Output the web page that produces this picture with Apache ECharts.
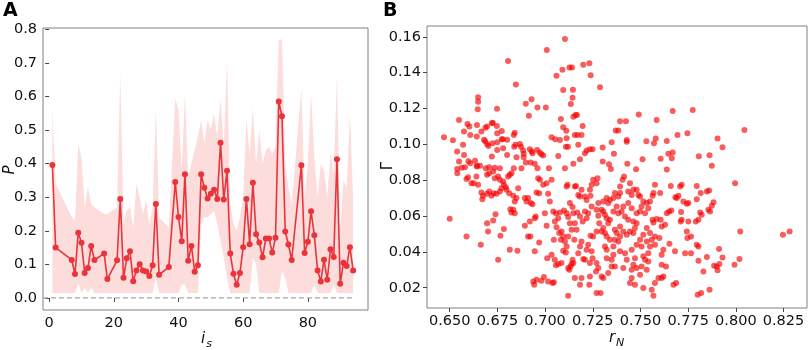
<!DOCTYPE html>
<html>
<head>
<meta charset="utf-8">
<script src="https://cdn.jsdelivr.net/npm/echarts@6/dist/echarts.min.js"></script>
<style>
  html, body { margin: 0; padding: 0; background: #fff; }
  #main { width: 809px; height: 350px; }
</style>
</head>
<body>
<div id="main"></div>
<script>
var chartDom = document.getElementById("main");
var myChart = echarts.init(chartDom);
var option;

// panel A: P per i_s, with the shaded range
const sIndex = [1, 2, 7, 8, 9, 10, 11, 12, 13, 14, 17, 18, 21, 22, 23, 24, 25, 26, 27, 28,
  29, 30, 31, 32, 33, 34, 37, 39, 40, 41, 42, 43, 44, 45, 46, 47, 48, 49, 50, 51,
  52, 53, 54, 55, 56, 57, 58, 59, 60, 61, 62, 63, 64, 65, 66, 67, 68, 69, 70, 71,
  72, 73, 74, 75, 78, 79, 80, 81, 82, 83, 84, 85, 86, 87, 88, 89, 90, 91, 92, 93, 94];
const pMean = [0.396, 0.150, 0.113, 0.071, 0.194, 0.164, 0.074, 0.089, 0.155, 0.113, 0.132, 0.056, 0.112, 0.295, 0.060, 0.118, 0.139, 0.050, 0.082, 0.100,
  0.082, 0.079, 0.065, 0.097, 0.280, 0.069, 0.092, 0.345, 0.241, 0.169, 0.368, 0.111, 0.155, 0.078, 0.097, 0.368, 0.328, 0.296, 0.310, 0.322,
  0.295, 0.462, 0.293, 0.379, 0.132, 0.072, 0.039, 0.074, 0.151, 0.295, 0.160, 0.343, 0.190, 0.165, 0.121, 0.177, 0.177, 0.135, 0.179, 0.585,
  0.541, 0.198, 0.159, 0.113, 0.395, 0.134, 0.167, 0.258, 0.187, 0.082, 0.049, 0.114, 0.054, 0.145, 0.122, 0.413, 0.042, 0.105, 0.095, 0.151, 0.082];
const pUpper = [0.565, 0.34, 0.24, 0.23, 0.455, 0.42, 0.27, 0.33, 0.28, 0.27, 0.25, 0.25, 0.27, 0.67, 0.22, 0.26, 0.27, 0.21, 0.34, 0.30,
  0.25, 0.29, 0.22, 0.27, 0.565, 0.24, 0.21, 0.595, 0.56, 0.38, 0.61, 0.36, 0.40, 0.44, 0.48, 0.53, 0.46, 0.53, 0.50, 0.55,
  0.48, 0.595, 0.45, 0.71, 0.28, 0.22, 0.20, 0.24, 0.30, 0.53, 0.43, 0.565, 0.40, 0.50, 0.40, 0.44, 0.45, 0.43, 0.45, 0.77,
  0.77, 0.40, 0.33, 0.28, 0.625, 0.30, 0.40, 0.61, 0.42, 0.30, 0.40, 0.38, 0.30, 0.43, 0.37, 0.66, 0.20, 0.35, 0.33, 0.55, 0.30];
const pLower = [0.015, 0.015, 0.015, 0.015, 0.042, 0.015, 0.03, 0.015, 0.03, 0.015, 0.015, 0.015, 0.015, 0.015, 0.015, 0.015, 0.015, 0.015, 0.015, 0.015,
  0.015, 0.015, 0.015, 0.015, 0.06, 0.015, 0.015, 0.015, 0.015, 0.04, 0.04, 0.015, 0.015, 0.015, 0.015, 0.22, 0.24, 0.24, 0.25, 0.26,
  0.22, 0.17, 0.12, 0.06, 0.015, 0.015, 0.015, 0.015, 0.015, 0.015, 0.015, 0.12, 0.10, 0.015, 0.015, 0.015, 0.015, 0.015, 0.015, 0.015,
  0.08, 0.06, 0.015, 0.015, 0.015, 0.015, 0.015, 0.015, 0.04, 0.015, 0.015, 0.015, 0.015, 0.015, 0.04, 0.015, 0.015, 0.015, 0.015, 0.015, 0.015];
const xTicksA = [0, 20, 40, 60, 80];
const yTicksA = [0, 0.1, 0.2, 0.3, 0.4, 0.5, 0.6, 0.7, 0.8];
const zeroLineEnd = 94;

// panel B: Gamma against r_N
const rN = [
  0.7104, 0.7009, 0.6806, 0.7060, 0.7091, 0.7128, 0.7141, 0.7200, 0.7232, 0.7239, 0.6847, 0.6649, 0.6649, 0.6647, 0.6748, 0.6899, 0.6929, 0.6915, 0.6960, 0.7004,
  0.7095, 0.7146, 0.7144, 0.7135, 0.6549, 0.6593, 0.6603, 0.6575, 0.6608, 0.6570, 0.6643, 0.6666, 0.6687, 0.6696, 0.6721, 0.6726, 0.6747, 0.6773, 0.6749, 0.6749,
  0.6470, 0.6517, 0.6642, 0.6680, 0.6686, 0.6696, 0.6724, 0.6773, 0.6778, 0.6801, 0.6836, 0.6841, 0.6845, 0.6838, 0.6539, 0.6575, 0.6549, 0.6598, 0.6608, 0.6633,
  0.6642, 0.6659, 0.6703, 0.6721, 0.6749, 0.6780, 0.6801, 0.6850, 0.6868, 0.6874, 0.6885, 0.6888, 0.6888, 0.6920, 0.6930, 0.6934, 0.6958, 0.6972, 0.6981, 0.7034,
  0.7053, 0.7078, 0.7083, 0.7095, 0.7111, 0.7109, 0.7120, 0.7113, 0.7148, 0.7160, 0.7167, 0.7156, 0.7170, 0.7191, 0.7174, 0.7197, 0.7209, 0.7218, 0.7235, 0.7249,
  0.7183, 0.7148, 0.7104, 0.7069, 0.6539, 0.6563, 0.6580, 0.6643, 0.6689, 0.6707, 0.6736, 0.6763, 0.6836, 0.6876, 0.6899, 0.6924, 0.6946, 0.6960, 0.6990, 0.7020,
  0.6500, 0.6540, 0.6588, 0.6596, 0.6614, 0.6626, 0.6640, 0.6649, 0.6666, 0.6671, 0.6675, 0.6696, 0.6707, 0.6719, 0.6731, 0.6745, 0.6763, 0.6771, 0.6784, 0.6794,
  0.6806, 0.6815, 0.6824, 0.6754, 0.6736, 0.6763, 0.6780, 0.6798, 0.6812, 0.6833, 0.6841, 0.6850, 0.6859, 0.6696, 0.6707, 0.6728, 0.6588, 0.6663, 0.6696, 0.6701,
  0.6728, 0.6740, 0.6766, 0.6784, 0.6815, 0.6855, 0.6754, 0.6824, 0.6841, 0.6833, 0.6818, 0.6894, 0.6911, 0.6923, 0.6946, 0.6943, 0.6938, 0.6955, 0.6969, 0.6981,
  0.6994, 0.7011, 0.7016, 0.7039, 0.7046, 0.6894, 0.6903, 0.6925, 0.6934, 0.6911, 0.6955, 0.6969, 0.6964, 0.6973, 0.6990, 0.7008, 0.7034, 0.7016, 0.7025, 0.6999,
  0.7008, 0.6951, 0.6946, 0.6920, 0.7043, 0.7057, 0.7069, 0.7078, 0.7099, 0.7113, 0.7051, 0.7060, 0.7074, 0.7086, 0.7095, 0.7104, 0.7083, 0.7046, 0.7034, 0.7051,
  0.7069, 0.7057, 0.7086, 0.7095, 0.7113, 0.7109, 0.7121, 0.7134, 0.7127, 0.7139, 0.7144, 0.7148, 0.7156, 0.7121, 0.7153, 0.7165, 0.7174, 0.7183, 0.7191, 0.7200,
  0.7209, 0.7218, 0.7235, 0.7249, 0.7244, 0.7226, 0.7238, 0.7252, 0.7270, 0.7284, 0.7279, 0.7270, 0.7244, 0.7226, 0.7218, 0.7209, 0.7197, 0.7183, 0.7169, 0.7156,
  0.7139, 0.7130, 0.7121, 0.7148, 0.7144, 0.7130, 0.7113, 0.7118, 0.7156, 0.7162, 0.7174, 0.7183, 0.7191, 0.7209, 0.7218, 0.7238, 0.7244, 0.7270, 0.7275, 0.7252,
  0.7235, 0.7279, 0.7279, 0.7270, 0.7267, 0.7235, 0.7232, 0.7191, 0.7183, 0.7270, 0.7121,
  0.7288, 0.7491, 0.7669, 0.7774, 0.7585, 0.7393, 0.7424, 0.7370, 0.7384, 0.8045, 0.7694, 0.7746, 0.7904, 0.7930, 0.7428, 0.7428, 0.7580, 0.7531, 0.7571, 0.7638,
  0.7349, 0.7302, 0.7361, 0.7646, 0.7669, 0.7664, 0.7511, 0.7606, 0.7806, 0.7862, 0.7874, 0.7302, 0.7335, 0.7345, 0.7431, 0.7477, 0.7638,
  0.7996, 0.8023, 0.8247, 0.8282, 0.7993, 0.8019, 0.7912, 0.7930, 0.7900, 0.7886, 0.7914, 0.7904, 0.7848, 0.7830, 0.7804, 0.7800, 0.7818, 0.7862, 0.7795, 0.7816,
  0.7848, 0.7860, 0.7883, 0.7874, 0.7856, 0.7865, 0.7813, 0.7821, 0.7804, 0.7790, 0.7795, 0.7751, 0.7743, 0.7716, 0.7708, 0.7699, 0.7690, 0.7659, 0.7650, 0.7662,
  0.7638, 0.7629, 0.7611, 0.7606, 0.7585, 0.7564, 0.7568, 0.7713, 0.7716, 0.7711, 0.7751, 0.7743, 0.7746, 0.7765, 0.7795, 0.7804, 0.7765, 0.7725, 0.7683, 0.7734,
  0.7681, 0.7652, 0.7620, 0.7611, 0.7634, 0.7611, 0.7620, 0.7611, 0.7673, 0.7687, 0.7576, 0.7603, 0.7568, 0.7564, 0.7550, 0.7541, 0.7533, 0.7515, 0.7498, 0.7489,
  0.7480, 0.7463, 0.7454, 0.7436, 0.7445, 0.7414, 0.7406, 0.7393, 0.7393, 0.7384, 0.7366, 0.7358, 0.7340, 0.7331, 0.7323, 0.7305, 0.7296, 0.7305, 0.7314, 0.7323,
  0.7340, 0.7331, 0.7305, 0.7296, 0.7314, 0.7323, 0.7340, 0.7314, 0.7323, 0.7358, 0.7366, 0.7384, 0.7393, 0.7375, 0.7366, 0.7393, 0.7410, 0.7428, 0.7445, 0.7463,
  0.7471, 0.7480, 0.7463, 0.7436, 0.7419, 0.7401, 0.7384, 0.7358, 0.7375, 0.7410, 0.7436, 0.7454, 0.7480, 0.7498, 0.7506, 0.7524, 0.7515, 0.7498, 0.7480, 0.7506,
  0.7533, 0.7550, 0.7541, 0.7524, 0.7506, 0.7480, 0.7463, 0.7454, 0.7428, 0.7410, 0.7419, 0.7454, 0.7471, 0.7515, 0.7541, 0.7533, 0.7498, 0.7454, 0.7445, 0.7471,
  0.7515, 0.7559, 0.7568, 0.7594, 0.7576, 0.7576, 0.7599, 0.7576, 0.7559, 0.7550, 0.7533, 0.7349, 0.7366, 0.7331, 0.7296, 0.7305, 0.7291, 0.7393, 0.7358, 0.7323, 0.7349
];
const gamma = [
  0.1587, 0.1526, 0.1465, 0.1383, 0.1416, 0.1429, 0.1429, 0.1444, 0.1452, 0.1385, 0.1333, 0.1262, 0.1238, 0.1195, 0.1199, 0.1227, 0.1251, 0.1160, 0.1206, 0.1205,
  0.1303, 0.1305, 0.1260, 0.1225, 0.1136, 0.1114, 0.1099, 0.1071, 0.1052, 0.0997, 0.1108, 0.1071, 0.1093, 0.1099, 0.1117, 0.1121, 0.1102, 0.1075, 0.1062, 0.1011,
  0.1039, 0.1023, 0.1043, 0.1026, 0.1017, 0.1002, 0.1006, 0.1028, 0.1028, 0.1026, 0.1052, 0.1065, 0.0997, 0.0987, 0.0960, 0.0941, 0.0904, 0.0906, 0.0894, 0.0909,
  0.0881, 0.0881, 0.0991, 0.0932, 0.0969, 0.0978, 0.0941, 0.0928, 0.1002, 0.0987, 0.0965, 0.0947, 0.0928, 0.0972, 0.0960, 0.0950, 0.0969, 0.0954, 0.0945, 0.1039,
  0.1028, 0.1024, 0.1141, 0.1095, 0.1076, 0.0987, 0.0987, 0.1034, 0.1154, 0.1164, 0.1164, 0.1052, 0.1052, 0.1052, 0.0997, 0.1102, 0.0950, 0.0965, 0.0972, 0.0972,
  0.0917, 0.0891, 0.0867, 0.0935, 0.0863, 0.0869, 0.0872, 0.0876, 0.0867, 0.0872, 0.0870, 0.0867, 0.0867, 0.0867, 0.0898, 0.0898, 0.0891, 0.0867, 0.0937, 0.0867,
  0.0585, 0.0839, 0.0807, 0.0817, 0.0783, 0.0783, 0.0820, 0.0774, 0.0731, 0.0694, 0.0713, 0.0724, 0.0737, 0.0713, 0.0727, 0.0724, 0.0737, 0.0755, 0.0774, 0.0761,
  0.0820, 0.0830, 0.0839, 0.0820, 0.0811, 0.0802, 0.0793, 0.0746, 0.0727, 0.0713, 0.0681, 0.0700, 0.0755, 0.0830, 0.0839, 0.0848, 0.0486, 0.0440, 0.0560, 0.0514,
  0.0575, 0.0610, 0.0490, 0.0527, 0.0412, 0.0406, 0.0356, 0.0620, 0.0616, 0.0635, 0.0638, 0.0546, 0.0486, 0.0486, 0.0403, 0.0217, 0.0235, 0.0245, 0.0453, 0.0239,
  0.0260, 0.0365, 0.0235, 0.0226, 0.0230, 0.0700, 0.0681, 0.0672, 0.0666, 0.0700, 0.0731, 0.0727, 0.0811, 0.0802, 0.0774, 0.0783, 0.0802, 0.0724, 0.0681, 0.0616,
  0.0546, 0.0598, 0.0588, 0.0570, 0.0625, 0.0616, 0.0588, 0.0620, 0.0631, 0.0616, 0.0570, 0.0538, 0.0505, 0.0514, 0.0486, 0.0458, 0.0468, 0.0468, 0.0384, 0.0356,
  0.0332, 0.0325, 0.0338, 0.0406, 0.0430, 0.0397, 0.0310, 0.0319, 0.0301, 0.0332, 0.0356, 0.0338, 0.0254, 0.0156, 0.0468, 0.0523, 0.0393, 0.0430, 0.0458, 0.0360,
  0.0356, 0.0412, 0.0338, 0.0365, 0.0403, 0.0440, 0.0490, 0.0486, 0.0514, 0.0560, 0.0601, 0.0635, 0.0653, 0.0616, 0.0588, 0.0625, 0.0570, 0.0598, 0.0620, 0.0560,
  0.0523, 0.0560, 0.0594, 0.0616, 0.0650, 0.0672, 0.0765, 0.0774, 0.0765, 0.0768, 0.0718, 0.0709, 0.0746, 0.0709, 0.0690, 0.0713, 0.0774, 0.0783, 0.0811, 0.0802,
  0.0746, 0.0672, 0.0310, 0.0338, 0.0291, 0.0263, 0.0217, 0.0254, 0.0217, 0.0170, 0.0486,
  0.1318, 0.1166, 0.1186, 0.1192, 0.1136, 0.1128, 0.1128, 0.1077, 0.1077, 0.1080, 0.1052, 0.1062, 0.1032, 0.0984, 0.1024, 0.1015, 0.1032, 0.1017, 0.1006, 0.1019,
  0.1011, 0.0982, 0.0947, 0.0947, 0.0954, 0.0922, 0.0917, 0.0919, 0.0934, 0.0939, 0.0880, 0.0904, 0.0889, 0.0863, 0.0891, 0.0861, 0.0859,
  0.0783, 0.0514, 0.0495, 0.0514, 0.0328, 0.0360, 0.0416, 0.0369, 0.0319, 0.0323, 0.0332, 0.0297, 0.0371, 0.0291, 0.0351, 0.0161, 0.0171, 0.0189, 0.0768, 0.0728,
  0.0737, 0.0743, 0.0677, 0.0657, 0.0635, 0.0625, 0.0620, 0.0607, 0.0579, 0.0570, 0.0694, 0.0672, 0.0668, 0.0774, 0.0765, 0.0713, 0.0700, 0.0768, 0.0625, 0.0631,
  0.0616, 0.0551, 0.0542, 0.0579, 0.0583, 0.0579, 0.0564, 0.0622, 0.0579, 0.0570, 0.0570, 0.0514, 0.0477, 0.0486, 0.0440, 0.0430, 0.0393, 0.0681, 0.0705, 0.0393,
  0.0403, 0.0445, 0.0412, 0.0384, 0.0319, 0.0328, 0.0263, 0.0254, 0.0217, 0.0226, 0.0774, 0.0728, 0.0728, 0.0713, 0.0681, 0.0644, 0.0672, 0.0681, 0.0709, 0.0718,
  0.0746, 0.0746, 0.0718, 0.0737, 0.0783, 0.0820, 0.0802, 0.0765, 0.0728, 0.0709, 0.0728, 0.0700, 0.0690, 0.0672, 0.0700, 0.0681, 0.0635, 0.0625, 0.0607, 0.0588,
  0.0579, 0.0560, 0.0533, 0.0514, 0.0505, 0.0486, 0.0468, 0.0430, 0.0412, 0.0430, 0.0468, 0.0458, 0.0486, 0.0505, 0.0523, 0.0542, 0.0514, 0.0495, 0.0514, 0.0505,
  0.0533, 0.0560, 0.0570, 0.0579, 0.0598, 0.0625, 0.0616, 0.0625, 0.0653, 0.0653, 0.0672, 0.0644, 0.0616, 0.0625, 0.0653, 0.0616, 0.0495, 0.0468, 0.0440, 0.0430,
  0.0458, 0.0430, 0.0393, 0.0356, 0.0319, 0.0310, 0.0328, 0.0301, 0.0356, 0.0310, 0.0393, 0.0412, 0.0365, 0.0375, 0.0347, 0.0301, 0.0273, 0.0254, 0.0226, 0.0217,
  0.0198, 0.0189, 0.0156, 0.0254, 0.0226, 0.0440, 0.0477, 0.0486, 0.0468, 0.0505, 0.0533, 0.0319, 0.0319, 0.0282, 0.0263, 0.0254, 0.0171, 0.0403, 0.0384, 0.0365, 0.0356
];
const xTicksB = [0.650, 0.675, 0.700, 0.725, 0.750, 0.775, 0.800, 0.825];
const yTicksB = [0.02, 0.04, 0.06, 0.08, 0.10, 0.12, 0.14, 0.16];

const font = "DejaVu Sans";
const spine = "#808080";
const labelStyle = { fontFamily: font, fontSize: 14.5, color: "#111" };

function axisCommon(ticks, fmt) {
  return {
    type: "value",
    splitLine: { show: false },
    axisLine: { show: false },
    axisTick: { show: true, inside: false, length: 4, customValues: ticks, lineStyle: { color: "#444", width: 1 } },
    axisLabel: Object.assign({ customValues: ticks, margin: 6, formatter: fmt }, labelStyle),
  };
}

const lineData = sIndex.map((s, i) => [s, pMean[i]]);

// shaded range drawn as one polygon through the axis scales
function renderBand(params, api) {
  if (params.dataIndex !== 0) return null;
  const pts = [];
  for (let i = 0; i < sIndex.length; i++) pts.push(api.coord([sIndex[i], pUpper[i]]));
  for (let i = sIndex.length - 1; i >= 0; i--) pts.push(api.coord([sIndex[i], pLower[i]]));
  return {
    type: "polygon",
    shape: { points: pts },
    style: { fill: "#fddcdc" },
    silent: true,
  };
}

option = {
  animation: false,
  grid: [
    { left: 43, top: 28, width: 325, height: 282, show: true, borderColor: spine, borderWidth: 1 },
    { left: 427, top: 26, width: 380, height: 282, show: true, borderColor: spine, borderWidth: 1 },
  ],
  xAxis: [
    Object.assign(axisCommon(xTicksA, (v) => String(v)), { gridIndex: 0, min: -1.9, max: 98.6 }),
    Object.assign(axisCommon(xTicksB, (v) => v.toFixed(3)), { gridIndex: 1, min: 0.6381, max: 0.8373 }),
  ],
  yAxis: [
    Object.assign(axisCommon(yTicksA, (v) => v.toFixed(1)), { gridIndex: 0, min: -0.036, max: 0.804 }),
    Object.assign(axisCommon(yTicksB, (v) => v.toFixed(2)), { gridIndex: 1, min: 0.0087, max: 0.166 }),
  ],
  series: [
    {
      type: "custom",
      xAxisIndex: 0,
      yAxisIndex: 0,
      renderItem: renderBand,
      data: [[sIndex[0], pUpper[0]]],
      silent: true,
      z: 1,
    },
    {
      type: "line",
      xAxisIndex: 0,
      yAxisIndex: 0,
      data: [[-1.9, 0], [zeroLineEnd, 0]],
      symbol: "none",
      lineStyle: { color: "#a8a8a8", width: 1.2, type: [5, 3] },
      silent: true,
      z: 2,
    },
    {
      type: "line",
      xAxisIndex: 0,
      yAxisIndex: 0,
      data: lineData,
      symbol: "circle",
      symbolSize: 6,
      lineStyle: { color: "#e8343a", width: 1.6 },
      itemStyle: { color: "#e8343a" },
      z: 3,
    },
    {
      type: "scatter",
      xAxisIndex: 1,
      yAxisIndex: 1,
      data: rN.map((r, i) => [r, gamma[i]]),
      symbolSize: 6,
      itemStyle: { color: "rgba(245,0,0,0.8)" },
    },
  ],
  graphic: {
    elements: [
      { type: "text", left: 3, top: 2, style: { text: "A", fontFamily: font, fontWeight: "bold", fontSize: 19, fill: "#000" } },
      { type: "text", left: 383, top: 2, style: { text: "B", fontFamily: font, fontWeight: "bold", fontSize: 19, fill: "#000" } },
      { type: "text", x: 10, y: 170, rotation: Math.PI / 2, style: { text: "P", fontFamily: font, fontStyle: "italic", fontSize: 15, fill: "#111", align: "center", verticalAlign: "middle" } },
      { type: "text", x: 203, y: 339, style: { text: "i", fontFamily: font, fontStyle: "italic", fontSize: 15, fill: "#111", align: "center", verticalAlign: "middle" } },
      { type: "text", x: 209, y: 344, style: { text: "s", fontFamily: font, fontStyle: "italic", fontSize: 11, fill: "#111", align: "center", verticalAlign: "middle" } },
      { type: "text", x: 388, y: 166, rotation: Math.PI / 2, style: { text: "Γ", fontFamily: font, fontSize: 15, fill: "#111", align: "center", verticalAlign: "middle" } },
      { type: "text", x: 612, y: 338, style: { text: "r", fontFamily: font, fontStyle: "italic", fontSize: 15, fill: "#111", align: "center", verticalAlign: "middle" } },
      { type: "text", x: 620, y: 343, style: { text: "N", fontFamily: font, fontStyle: "italic", fontSize: 11, fill: "#111", align: "center", verticalAlign: "middle" } },
    ],
  },
};

option && myChart.setOption(option);
</script>
</body>
</html>
